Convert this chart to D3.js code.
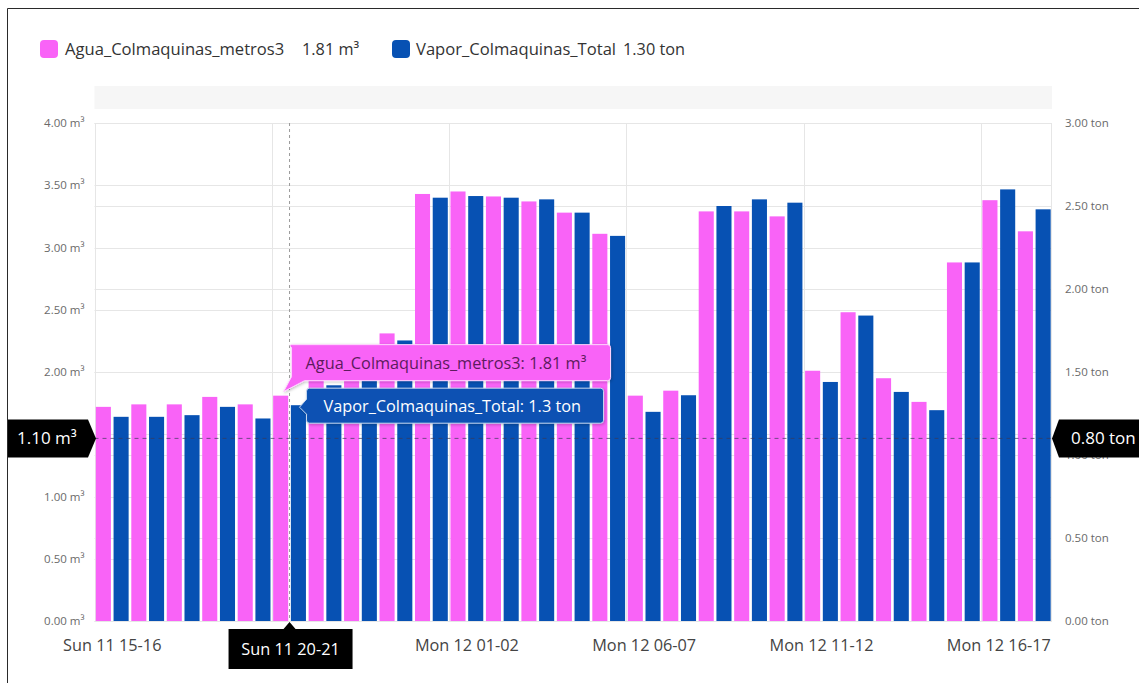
<!DOCTYPE html>
<html>
<head>
<meta charset="utf-8">
<script src="https://cdn.jsdelivr.net/npm/d3@7/dist/d3.min.js"></script>
<style>
  html, body { margin: 0; padding: 0; background: #fff; }
  svg { display: block; font-family: "Open Sans", "Noto Sans", sans-serif; }
</style>
</head>
<body>
<svg id="chart" width="1139" height="683"></svg>
<script>
// Hourly consumption, Sun 11 15h to Mon 12 18h
const categories = [
  "Sun 11 15-16", "Sun 11 16-17", "Sun 11 17-18", "Sun 11 18-19", "Sun 11 19-20",
  "Sun 11 20-21", "Sun 11 21-22", "Sun 11 22-23", "Sun 11 23-00",
  "Mon 12 00-01", "Mon 12 01-02", "Mon 12 02-03", "Mon 12 03-04", "Mon 12 04-05",
  "Mon 12 05-06", "Mon 12 06-07", "Mon 12 07-08", "Mon 12 08-09", "Mon 12 09-10",
  "Mon 12 10-11", "Mon 12 11-12", "Mon 12 12-13", "Mon 12 13-14", "Mon 12 14-15",
  "Mon 12 15-16", "Mon 12 16-17", "Mon 12 17-18"
];
// Water (m³) per hour
const agua = [
  1.72, 1.74, 1.74, 1.80, 1.74, 1.81, 1.98, 2.08, 2.31,
  3.43, 3.45, 3.41, 3.37, 3.28, 3.11, 1.81, 1.85, 3.29, 3.29,
  3.25, 2.01, 2.48, 1.95, 1.76, 2.88, 3.38, 3.13
];
// Steam (ton) per hour
const vapor = [
  1.23, 1.23, 1.24, 1.29, 1.22, 1.30, 1.42, 1.55, 1.69,
  2.55, 2.56, 2.55, 2.54, 2.46, 2.32, 1.26, 1.36, 2.50, 2.54,
  2.52, 1.44, 1.84, 1.38, 1.27, 2.16, 2.60, 2.48
];
const leftTicks = [0, 0.5, 1, 1.5, 2, 2.5, 3, 3.5, 4];
const rightTicks = [0, 0.5, 1, 1.5, 2, 2.5, 3];
const labelEvery = 5;

const seriesNames = ["Agua_Colmaquinas_metros3", "Vapor_Colmaquinas_Total"];
const legendValues = ["1.81 m³", "1.30 ton"];
const colors = { agua: "#f963f7", vapor: "#0751b3" };

// Hover state
const hoverIndex = 5;
const hoverLevel = 1.10;
const hoverLeftLabel = "1.10 m³";
const hoverRightLabel = "0.80 ton";
const tipAgua = "Agua_Colmaquinas_metros3: 1.81 m³";
const tipVapor = "Vapor_Colmaquinas_Total: 1.3 ton";

const svg = d3.select("#chart");
const plot = { left: 94.5, right: 1052, top: 123, bottom: 621 };

const x0 = d3.scaleBand().domain(categories).range([plot.left, plot.right]).paddingInner(0).paddingOuter(0);
const x1 = d3.scaleBand().domain(["agua", "vapor"]).range([0, x0.bandwidth()]).paddingInner(0.15).paddingOuter(0.075);
const yL = d3.scaleLinear().domain([0, 4]).range([plot.bottom, plot.top]);
const yR = d3.scaleLinear().domain([0, 3]).range([plot.bottom, plot.top]);

svg.append("rect").attr("width", 1139).attr("height", 683).attr("fill", "#fff");

// panel frame
svg.append("path").attr("d", "M7.5,690V8.5H1145").attr("fill", "none").attr("stroke", "#2a2a2a").attr("stroke-width", 1);

// legend
const legend = svg.append("g");
const legendItems = [
  { color: colors.agua, name: seriesNames[0], val: legendValues[0], x: 40, tx: 65, vx: 302 },
  { color: colors.vapor, name: seriesNames[1], val: legendValues[1], x: 392, tx: 416, vx: 623 }
];
legendItems.forEach(d => {
  legend.append("rect").attr("x", d.x).attr("y", 40).attr("width", 18).attr("height", 18).attr("rx", 4).attr("fill", d.color);
  legend.append("text").attr("x", d.tx).attr("y", 55).attr("font-size", 16.6).attr("fill", "#333").text(d.name);
  legend.append("text").attr("x", d.vx).attr("y", 55).attr("font-size", 16.3).attr("fill", "#333").text(d.val);
});

// light band above plot
svg.append("rect").attr("x", plot.left).attr("y", 86).attr("width", plot.right - plot.left).attr("height", 23).attr("fill", "#f6f6f6");

// horizontal grid for both axes
const grid = svg.append("g").attr("stroke", "#e6e6e6").attr("stroke-width", 1);
leftTicks.forEach(t => grid.append("line").attr("x1", plot.left).attr("x2", plot.right).attr("y1", Math.round(yL(t)) + 0.5).attr("y2", Math.round(yL(t)) + 0.5));
rightTicks.forEach(t => grid.append("line").attr("x1", plot.left).attr("x2", plot.right).attr("y1", Math.round(yR(t)) + 0.5).attr("y2", Math.round(yR(t)) + 0.5));

// vertical grid at category boundaries
const vIdx = categories.map((c, i) => i).filter(i => i % labelEvery === 0);
vIdx.forEach(i => grid.append("line").attr("x1", Math.round(x0(categories[i])) + 0.5).attr("x2", Math.round(x0(categories[i])) + 0.5).attr("y1", plot.top).attr("y2", plot.bottom));
grid.append("line").attr("x1", plot.right - 0.5).attr("x2", plot.right - 0.5).attr("y1", plot.top).attr("y2", plot.bottom);

// bars
const rows = categories.map((c, i) => ({ c, agua: agua[i], vapor: vapor[i] }));
const g = svg.append("g");
g.selectAll("rect.agua").data(rows).join("rect")
  .attr("x", d => x0(d.c) + x1("agua")).attr("width", x1.bandwidth())
  .attr("y", d => yL(d.agua)).attr("height", d => yL(0) - yL(d.agua))
  .attr("fill", colors.agua);
g.selectAll("rect.vapor").data(rows).join("rect")
  .attr("x", d => x0(d.c) + x1("vapor")).attr("width", x1.bandwidth())
  .attr("y", d => yR(d.vapor)).attr("height", d => yR(0) - yR(d.vapor))
  .attr("fill", colors.vapor);

// crosshair position
const cx = x0(categories[hoverIndex]) + x0.bandwidth() / 2;
const cy = yR(hoverLevel);
const lblH = 38;

// axes; the left tick hidden under the hover label is skipped, and the
// hovered category label is drawn in its highlighted box instead
const leftShown = leftTicks.filter(t => Math.abs(yL(t) - cy) > lblH / 2);
const axisL = d3.axisLeft(yL).tickValues(leftShown).tickSize(0).tickPadding(10).tickFormat(v => d3.format(".2f")(v) + " m³");
const axisR = d3.axisRight(yR).tickValues(rightTicks).tickSize(0).tickPadding(13).tickFormat(v => d3.format(".2f")(v) + " ton");
const gl = svg.append("g").attr("transform", `translate(${plot.left},0)`).call(axisL);
const gr = svg.append("g").attr("transform", `translate(${plot.right},0)`).call(axisR);
[gl, gr].forEach(a => {
  a.select(".domain").remove();
  a.selectAll("text").attr("font-size", 11.5).attr("fill", "#6a6a6a").attr("font-family", "Open Sans, sans-serif");
});

const bottomShown = categories.filter((c, i) => i % labelEvery === 0 && i !== hoverIndex);
const axisB = d3.axisBottom(x0).tickValues(bottomShown).tickSize(0).tickPadding(18);
const gb = svg.append("g").attr("transform", `translate(0,${plot.bottom})`).call(axisB);
gb.select(".domain").remove();
gb.selectAll("text").attr("font-size", 16.3).attr("fill", "#444").attr("font-family", "Open Sans, sans-serif");

// crosshair lines
svg.append("line").attr("x1", cx).attr("x2", cx).attr("y1", plot.top).attr("y2", plot.bottom)
  .attr("stroke", "#9a9a9a").attr("stroke-dasharray", "3,3");
svg.append("line").attr("x1", plot.left).attr("x2", plot.right).attr("y1", cy).attr("y2", cy)
  .attr("stroke", "#3a3a5a").attr("stroke-opacity", 0.7).attr("stroke-dasharray", "4,4");

// crosshair labels
svg.append("path").attr("d", `M8,${cy - lblH / 2}H88L96,${cy}L88,${cy + lblH / 2}H8Z`).attr("fill", "#000");
svg.append("text").attr("x", 17).attr("y", cy + 6).attr("font-size", 17).attr("fill", "#fff").text(hoverLeftLabel);
svg.append("path").attr("d", `M1139,${cy - lblH / 2}H1059L1052,${cy}L1059,${cy + lblH / 2}H1139Z`).attr("fill", "#000");
svg.append("text").attr("x", 1071).attr("y", cy + 6).attr("font-size", 17).attr("fill", "#fff").text(hoverRightLabel);
const bw = 124, by = plot.bottom + 8;
svg.append("path").attr("d", `M${cx - bw / 2 + 1},${by}H${cx - 6}L${cx},${plot.bottom + 1}L${cx + 6},${by}H${cx + bw / 2 + 1}V${by + 40}H${cx - bw / 2 + 1}Z`).attr("fill", "#000");
svg.append("text").attr("x", cx + 1).attr("y", by + 26).attr("text-anchor", "middle").attr("font-size", 16.3).attr("fill", "#fff").text(categories[hoverIndex]);

// tooltips
const defs = svg.append("defs");
const f = defs.append("filter").attr("id", "tipShadow").attr("x", "-10%").attr("y", "-30%").attr("width", "120%").attr("height", "160%");
f.append("feDropShadow").attr("dx", 1).attr("dy", 1).attr("stdDeviation", 1.5).attr("flood-color", "#000").attr("flood-opacity", 0.25);

const aTop = yL(agua[hoverIndex]);
const vTop = yR(vapor[hoverIndex]);
const pinkX = cx - 1, pinkY = aTop - 51, pinkW = 322, pinkH = 36;
svg.append("path")
  .attr("d", `M${pinkX + 3},${pinkY}H${pinkX + pinkW - 3}Q${pinkX + pinkW},${pinkY} ${pinkX + pinkW},${pinkY + 3}V${pinkY + pinkH - 3}Q${pinkX + pinkW},${pinkY + pinkH} ${pinkX + pinkW - 3},${pinkY + pinkH}H${pinkX + 16}L${cx - 6},${aTop - 4}L${pinkX + 3},${pinkY + pinkH - 4}V${pinkY + 3}Q${pinkX},${pinkY} ${pinkX + 3},${pinkY}Z`)
  .attr("fill", colors.agua).attr("stroke", "#ffd6ff").attr("stroke-width", 1).attr("filter", "url(#tipShadow)");
svg.append("text").attr("x", pinkX + 17).attr("y", pinkY + 24).attr("font-size", 16.3).attr("fill", "#5d1b5d").text(tipAgua);

const blueX = cx + 17, blueY = vTop - 17, blueW = 297, blueH = 35;
svg.append("path")
  .attr("d", `M${blueX + 3},${blueY}H${blueX + blueW - 3}Q${blueX + blueW},${blueY} ${blueX + blueW},${blueY + 3}V${blueY + blueH - 3}Q${blueX + blueW},${blueY + blueH} ${blueX + blueW - 3},${blueY + blueH}H${blueX + 3}Q${blueX},${blueY + blueH} ${blueX},${blueY + blueH - 3}V${vTop + 9}L${blueX - 7},${vTop + 2}L${blueX},${vTop - 6}V${blueY + 3}Q${blueX},${blueY} ${blueX + 3},${blueY}Z`)
  .attr("fill", colors.vapor).attr("stroke", "#c9d7f0").attr("stroke-width", 1).attr("filter", "url(#tipShadow)");
svg.append("text").attr("x", blueX + 17).attr("y", blueY + 24).attr("font-size", 16.3).attr("fill", "#fff").text(tipVapor);
</script>
</body>
</html>
